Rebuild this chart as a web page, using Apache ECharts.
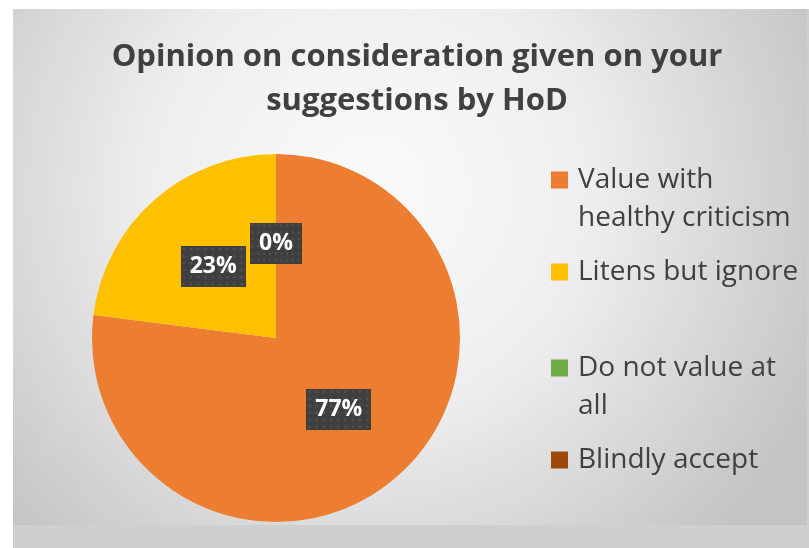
<!DOCTYPE html>
<html><head><meta charset="utf-8">
<script src="https://cdn.jsdelivr.net/npm/echarts/dist/echarts.min.js"></script>
<style>
html,body{margin:0;padding:0;background:#fff;width:809px;height:548px;overflow:hidden}
#wrap{position:absolute;left:13px;top:9px;width:796px;height:539px;background:#cfcfcf}
#chart{position:absolute;left:0;top:0;width:794px;height:516px}
</style></head><body>
<div id="wrap"><div id="chart"></div></div>
<script>
// ---- data ----
const titleText = 'Opinion on consideration given on your\nsuggestions by HoD';
const categories = ['Value with healthy criticism', 'Litens but ignore', 'Do not value at all', 'Blindly accept'];
const legendLabels = ['Value with\nhealthy criticism', 'Litens but ignore', 'Do not value at\nall', 'Blindly accept'];
const values = [77, 23, 0, 0];
const colors = ['#ED7D31', '#FFC000', '#70AD47', '#9E480E'];

// ---- style ----
const FONT = 'Open Sans';
const legendTops = [114, 244, 302, 432];

function makePattern(w, h) {
  const c = document.createElement('canvas');
  c.width = w; c.height = h;
  const g = c.getContext('2d');
  g.fillStyle = '#3f3f3f'; g.fillRect(0, 0, w, h);
  g.fillStyle = '#515151';
  for (let y = 3; y < h; y += 7) for (let x = 3; x < w; x += 7) {
    g.beginPath(); g.arc(x, y, 1.4, 0, Math.PI * 2); g.fill();
  }
  return c;
}
const pattern = makePattern(63, 41);

const chart = echarts.init(document.getElementById('chart'), null, {renderer: 'canvas'});
chart.setOption({
  animation: false,
  backgroundColor: {
    type: 'radial', x: 0.45, y: 0.35, r: 0.95,
    colorStops: [{offset: 0, color: '#fbfbfb'}, {offset: 0.45, color: '#eeeeee'}, {offset: 1, color: '#c4c4c4'}]
  },
  color: colors,
  title: {
    text: titleText,
    left: 404,
    textAlign: 'center',
    top: 26,
    padding: 0,
    textStyle: {fontFamily: FONT, fontWeight: 'bold', fontSize: 31, lineHeight: 44, color: '#404040'}
  },
  legend: categories.map((c, i) => ({
    data: [c],
    left: 538,
    top: legendTops[i],
    orient: 'vertical',
    padding: 0,
    itemWidth: 17,
    itemHeight: 17,
    icon: 'rect',
    formatter: () => (legendLabels[i].indexOf('\n') >= 0 ? '\n' : '') + legendLabels[i],
    textStyle: {
      fontFamily: FONT, fontSize: 28, color: '#404040', lineHeight: 38,
      padding: [0, 0, 0, 5]
    }
  })),
  series: [{
    type: 'pie',
    center: [263, 329],
    radius: 184,
    startAngle: 90,
    clockwise: true,
    data: categories.map((c, i) => ({name: c, value: values[i]})),
    itemStyle: {borderWidth: 0},
    label: {
      show: true,
      position: 'inside',
      formatter: p => Math.round(p.percent) + '%',
      fontFamily: FONT, fontWeight: 'bold', fontSize: 23, color: '#fff',
      lineHeight: 25,
      padding: [8, 9],
      backgroundColor: {image: pattern},
      shadowBlur: 7, shadowOffsetX: 3, shadowOffsetY: 3, shadowColor: 'rgba(0,0,0,0.5)'
    },
    labelLine: {show: false},
    labelLayout: {hideOverlap: true},
    emphasis: {scale: false}
  }]
});
</script>
</body></html>
